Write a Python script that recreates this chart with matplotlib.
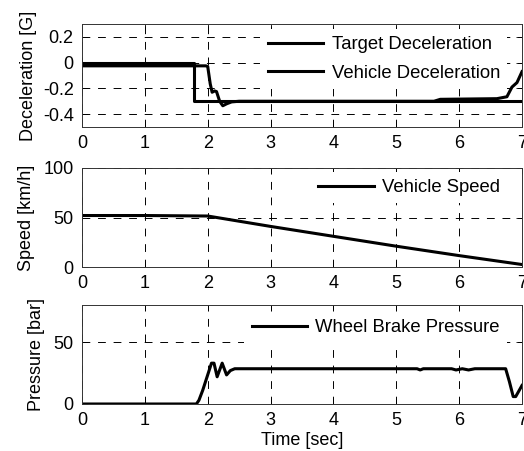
import matplotlib
matplotlib.use('Agg')
import matplotlib.pyplot as plt

plt.rcParams['font.family'] = ['Liberation Sans', 'DejaVu Sans']
plt.rcParams['font.size'] = 13

# deceleration [G]
t_target = [0, 1.78, 1.78, 7]
dec_target = [0, 0, -0.3, -0.3]
t_vehicle = [0, 1.97, 2.0, 2.04, 2.07, 2.11, 2.14, 2.19, 2.24, 2.3, 2.38, 2.5,
             5.6, 5.7, 6.6, 6.76, 6.84, 6.92, 7.0]
dec_vehicle = [-0.025, -0.025, -0.03, -0.165, -0.23, -0.22, -0.225, -0.30, -0.335,
               -0.32, -0.305, -0.30, -0.30, -0.285, -0.28, -0.265, -0.19, -0.155, -0.07]

# vehicle speed [km/h]
t_speed = [0, 1, 2, 3, 4, 5, 6, 6.5, 7]
speed = [52, 52, 51.5, 41, 31, 21, 11.5, 7, 2.5]

# wheel brake pressure [bar]
t_press = [0, 1.82, 1.86, 1.92, 1.99, 2.06, 2.1, 2.15, 2.23, 2.3, 2.36, 2.43,
           5.33, 5.38, 5.43, 5.88, 5.95, 6.05, 6.15, 6.25, 6.3, 6.74, 6.8, 6.86, 6.9, 7.0]
press = [0, 0, 3, 11, 22, 33, 33, 22, 33, 23.5, 27, 28.5,
         28.5, 27.5, 28.5, 28.5, 27.5, 28.5, 27.5, 28.5, 28.5, 28.5, 18, 6, 6, 15]

xticks = [0, 1, 2, 3, 4, 5, 6, 7]

fig = plt.figure(figsize=(5.24, 4.51), dpi=100)
left, width = 82 / 524, 440 / 524
ax1 = fig.add_axes([left, 1 - 127 / 451, width, 103 / 451])
ax2 = fig.add_axes([left, 1 - 267 / 451, width, 99 / 451])
ax3 = fig.add_axes([left, 1 - 404 / 451, width, 99 / 451])


def style(ax):
    ax.set_xlim(0, 7)
    ax.set_xticks(xticks)
    ax.grid(True, color='k', linestyle=(0, (8, 8)), linewidth=0.7)
    ax.tick_params(direction='in', length=4, width=0.6, top=True, right=True, pad=6)
    for s in ax.spines.values():
        s.set_linewidth(0.7)
        s.set_color('#333333')


def legend(ax, dy=0.0):
    leg = ax.legend(loc='upper right', bbox_to_anchor=(0.975, 1 - dy),
                    frameon=True, fancybox=False, framealpha=1,
                    handlelength=3.0, handletextpad=0.45, borderaxespad=0.2,
                    labelspacing=0.62, fontsize=13.3)
    leg.get_frame().set_edgecolor('none')


ax1.plot(t_target, dec_target, 'k-', lw=2.2, label='Target Deceleration')
ax1.plot(t_vehicle, dec_vehicle, 'k-', lw=2.2, label='Vehicle Deceleration')
ax1.set_ylim(-0.5, 0.3)
ax1.set_yticks([0.2, 0, -0.2, -0.4])
ax1.set_yticklabels(['0.2', '0', '-0.2', '-0.4'])
ax1.set_ylabel('Deceleration [G]', labelpad=4)
style(ax1)
legend(ax1, dy=0.01)

ax2.plot(t_speed, speed, 'k-', lw=2.2, label='Vehicle Speed')
ax2.set_ylim(0, 100)
ax2.set_yticks([0, 50, 100])
ax2.set_ylabel('Speed [km/h]', labelpad=6)
style(ax2)
legend(ax2)

ax3.plot(t_press, press, 'k-', lw=2.2, label='Wheel Brake Pressure')
ax3.set_ylim(0, 80)
ax3.set_yticks([0, 50])
ax3.set_ylabel('Pressure [bar]', labelpad=6)
ax3.set_xlabel('Time [sec]', labelpad=2)
style(ax3)
legend(ax3, dy=0.03)

fig.savefig('out.png', dpi=100)
